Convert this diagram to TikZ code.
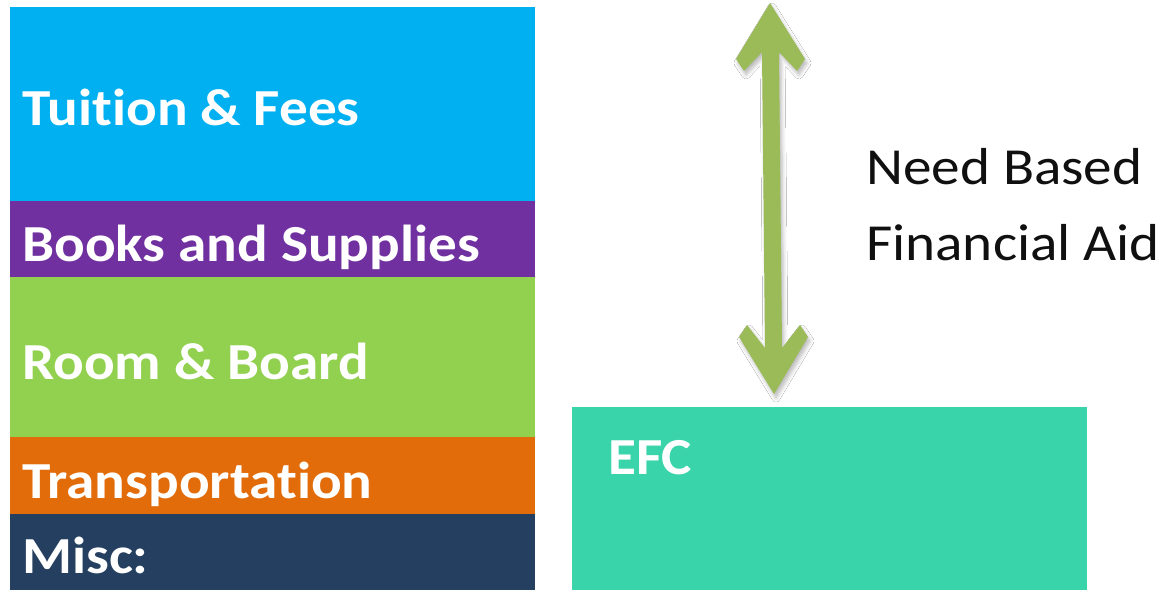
\documentclass[tikz,border=0pt]{standalone}
\usepackage{fontspec}
\setmainfont{Carlito}
\newfontfamily\lblfont[FakeStretch=1.1,Ligatures=NoCommon]{Carlito}
\usetikzlibrary{shadows.blur}
\definecolor{cblue}{HTML}{00B0F0}
\definecolor{cpurple}{HTML}{7030A0}
\definecolor{cgreen}{HTML}{92D050}
\definecolor{corange}{HTML}{E36C0A}
\definecolor{cnavy}{HTML}{243F60}
\definecolor{cteal}{HTML}{3AD4AA}
\definecolor{carrow}{HTML}{9BBB59}
\definecolor{ctext}{HTML}{101010}
\tikzset{
  wlabel/.style={anchor=base west, inner sep=0pt, text=white, font=\lblfont\bfseries\fontsize{52}{60}\selectfont},
  dlabel/.style={anchor=base west, inner sep=0pt, text=ctext, font=\lblfont\fontsize{52}{60}\selectfont},
}
\begin{document}
\begin{tikzpicture}[x=1pt,y=-1pt]
\useasboundingbox (0,0) rectangle (1161,590);
\fill[white] (0,0) rectangle (1161,590);
% stacked cost boxes
\fill[cblue]   (10,7)   rectangle (535,201);
\fill[cpurple] (10,201) rectangle (535,277);
\fill[cgreen]  (10,277) rectangle (535,437);
\fill[corange] (10,437) rectangle (535,514);
\fill[cnavy]   (10,514) rectangle (535,590);
% EFC box
\fill[cteal] (572,407) rectangle (1087,590);
% labels
\node[wlabel] (tuition) at (22,125) {Tuition \& Fees};
\node[wlabel] (books) at (22,261) {Books and Supplies};
\node[wlabel] (room) at (22,379) {Room \& Board};
\node[wlabel] (transp) at (22,498) {Transportation};
\node[wlabel] (misc) at (22,573) {Misc:};
\node[wlabel] (efc) at (608,474) {EFC};
\node[dlabel] (need) at (866,184) {Need Based};
\node[dlabel] (aid) at (866,260) {Financial Aid};
% double arrow
\fill[carrow, blur shadow={shadow xshift=2pt, shadow yshift=-4pt, shadow blur radius=4pt, shadow opacity=28}]
  (770,3) -- (805,59) -- (797,71) -- (779,52) -- (782,348) -- (800,325) -- (808,337)
  -- (774,394) -- (739,337) -- (747,325) -- (765,348) -- (762,52) -- (744,71) -- (736,59) -- cycle;
\end{tikzpicture}
\end{document}
